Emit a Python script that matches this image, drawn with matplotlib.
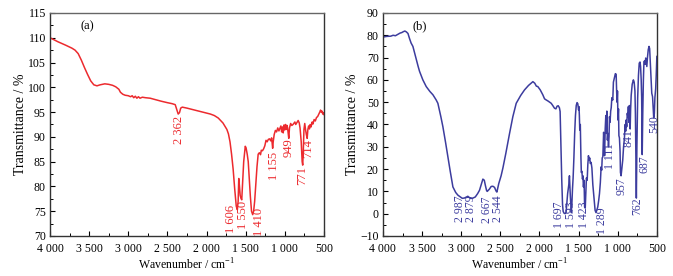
import matplotlib
matplotlib.use("Agg")
import matplotlib.pyplot as plt
from matplotlib.ticker import MultipleLocator, FuncFormatter

# spectrum (a)
wn_a = [4000, 3900, 3800, 3720, 3680, 3640, 3600, 3560, 3520, 3480,
        3440, 3400, 3360, 3300, 3250, 3200, 3160, 3120, 3100, 3070,
        3040, 3000, 2970, 2950, 2930, 2910, 2890, 2870, 2850, 2820,
        2780, 2720, 2650, 2580, 2500, 2440, 2400, 2380, 2362, 2345,
        2330, 2310, 2250, 2150, 2050, 1950, 1900, 1850, 1820, 1790,
        1760, 1740, 1720, 1700, 1680, 1660, 1640, 1620, 1606, 1596,
        1588, 1580, 1570, 1560, 1550, 1540, 1525, 1505, 1495, 1480,
        1467, 1455, 1440, 1425, 1410, 1398, 1385, 1370, 1355, 1340,
        1325, 1310, 1300, 1285, 1270, 1255, 1240, 1225, 1210, 1195,
        1180, 1168, 1160, 1155, 1148, 1135, 1120, 1105, 1090, 1075,
        1063, 1050, 1040, 1030, 1020, 1010, 1000, 990, 980, 970,
        960, 949, 940, 925, 910, 895, 880, 871, 860, 845,
        829, 815, 805, 790, 778, 771, 764, 755, 745, 735,
        725, 714, 705, 695, 685, 675, 665, 650, 640, 625,
        610, 595, 580, 565, 550, 543, 535, 525, 515, 505,
        500]
tr_a = [110.0, 109.2, 108.5, 107.9, 107.5, 106.8, 105.5, 104.0, 102.6, 101.3,
        100.5, 100.3, 100.5, 100.7, 100.6, 100.4, 100.1, 99.6, 99.0, 98.6,
        98.4, 98.3, 98.1, 98.3, 97.9, 98.2, 97.8, 98.1, 97.8, 98.0,
        97.9, 97.8, 97.5, 97.2, 96.9, 96.7, 96.5, 95.5, 94.6, 94.9,
        95.8, 96.0, 95.8, 95.4, 95.0, 94.6, 94.3, 93.8, 93.3, 92.8,
        92.0, 91.5, 90.6, 89.0, 86.5, 83.5, 79.5, 76.0, 75.3, 77.0,
        81.6, 80.2, 78.2, 77.6, 77.3, 80.5, 85.0, 88.1, 87.8, 86.5,
        85.0, 82.0, 78.0, 75.0, 74.3, 75.0, 77.0, 80.5, 84.0, 86.5,
        86.8, 86.4, 87.3, 87.2, 87.6, 88.2, 89.3, 89.0, 89.5, 89.6,
        89.2, 89.8, 88.5, 87.7, 89.0, 90.5, 91.3, 91.0, 91.8, 91.2,
        91.7, 92.2, 91.0, 92.0, 90.8, 92.4, 91.4, 92.5, 91.5, 92.3,
        91.2, 89.7, 91.8, 92.7, 92.3, 92.5, 92.8, 93.0, 92.5, 92.9,
        93.3, 92.8, 91.8, 89.0, 85.0, 84.3, 87.0, 91.5, 92.7, 91.5,
        90.5, 89.7, 91.5, 92.2, 91.6, 92.5, 92.0, 93.0, 92.6, 93.5,
        93.2, 93.9, 94.1, 94.6, 95.1, 95.4, 95.0, 95.2, 94.6, 94.9,
        94.5]

# spectrum (b)
wn_b = [4000, 3950, 3900, 3870, 3840, 3800, 3780, 3760, 3740, 3720,
        3700, 3680, 3660, 3640, 3617, 3580, 3550, 3532, 3490, 3447,
        3400, 3361, 3320, 3298, 3260, 3234, 3200, 3170, 3140, 3106,
        3070, 3042, 3010, 2987, 2960, 2930, 2915, 2895, 2879, 2850,
        2820, 2790, 2766, 2745, 2723, 2705, 2690, 2675, 2667, 2640,
        2617, 2595, 2574, 2555, 2544, 2520, 2490, 2467, 2430, 2382,
        2340, 2297, 2240, 2191, 2140, 2084, 2060, 2040, 2021, 1990,
        1957, 1935, 1914, 1890, 1870, 1850, 1830, 1808, 1790, 1775,
        1760, 1745, 1736, 1725, 1715, 1705, 1697, 1685, 1672, 1660,
        1650, 1640, 1630, 1625, 1617, 1612, 1605, 1598, 1593, 1585,
        1578, 1570, 1560, 1550, 1540, 1530, 1520, 1510, 1500, 1495,
        1490, 1485, 1478, 1470, 1465, 1458, 1450, 1445, 1438, 1430,
        1423, 1415, 1408, 1400, 1390, 1382, 1374, 1365, 1358, 1350,
        1340, 1330, 1318, 1305, 1297, 1289, 1278, 1268, 1255, 1243,
        1233, 1222, 1212, 1205, 1198, 1190, 1180, 1175, 1168, 1160,
        1152, 1145, 1139, 1132, 1125, 1118, 1111, 1105, 1098, 1090,
        1083, 1075, 1063, 1055, 1042, 1030, 1020, 1014, 1008, 1003,
        997, 990, 985, 978, 970, 965, 957, 950, 943, 936,
        925, 914, 905, 898, 893, 885, 878, 870, 864, 858,
        851, 845, 841, 835, 828, 815, 800, 790, 780, 774,
        768, 762, 755, 745, 735, 725, 715, 708, 700, 694,
        687, 680, 672, 665, 658, 650, 642, 635, 628, 620,
        610, 600, 592, 585, 575, 565, 555, 548, 540, 532,
        525, 515, 508, 500]
tr_b = [79.2, 79.5, 79.6, 80.0, 79.8, 80.6, 81.0, 81.2, 81.6, 81.9,
        81.5, 80.8, 78.5, 76.5, 75.0, 70.0, 66.0, 63.8, 60.0, 57.0,
        54.8, 53.3, 51.0, 49.5, 43.5, 39.0, 32.0, 25.5, 19.0, 12.0,
        9.5, 8.3, 7.5, 6.9, 7.0, 7.5, 7.8, 7.2, 6.8, 7.0,
        7.5, 9.0, 10.5, 13.0, 15.5, 15.0, 12.5, 10.3, 10.0, 11.0,
        12.2, 12.3, 11.8, 10.2, 9.7, 13.5, 17.0, 20.5, 27.0, 36.0,
        43.5, 49.5, 53.0, 55.5, 57.5, 59.2, 58.5, 57.2, 57.0, 55.5,
        53.3, 51.5, 51.0, 50.5, 50.0, 49.5, 48.5, 47.3, 47.0, 48.2,
        48.4, 47.5, 45.8, 30.0, 15.0, 4.0, 1.0, 0.2, 0.0, 0.5,
        5.0, 9.0, 11.5, 13.0, 17.0, 13.0, 7.5, 3.0, 0.5, 5.0,
        11.0, 16.0, 25.0, 36.0, 44.0, 48.5, 49.8, 49.3, 46.5, 48.0,
        44.0, 37.5, 40.0, 25.0, 18.5, 19.0, 15.5, 17.0, 12.0, 15.0,
        3.0, 2.5, 9.0, 16.0, 15.0, 22.0, 26.0, 24.0, 25.0, 22.5,
        23.0, 20.5, 13.0, 8.0, 5.0, 1.5, 0.5, 1.5, 3.0, 6.0,
        9.0, 14.0, 21.0, 19.5, 25.0, 25.5, 36.5, 33.0, 26.0, 38.0,
        44.0, 36.0, 46.0, 33.0, 36.0, 30.0, 34.5, 43.5, 41.0, 46.0,
        47.5, 52.0, 51.0, 59.0, 61.0, 62.8, 62.5, 55.0, 50.0, 55.0,
        42.0, 47.0, 35.0, 34.0, 28.0, 18.5, 17.0, 19.5, 21.5, 24.0,
        30.0, 34.0, 40.0, 37.0, 42.0, 39.0, 45.0, 43.5, 48.0, 41.0,
        48.5, 44.0, 38.0, 47.0, 53.0, 58.0, 60.0, 59.0, 55.0, 45.0,
        25.0, 7.0, 30.0, 52.0, 62.0, 67.5, 68.0, 66.0, 60.0, 52.0,
        26.5, 45.0, 60.0, 68.0, 68.5, 67.0, 69.8, 68.0, 66.0, 70.0,
        73.5, 75.0, 74.0, 69.0, 62.0, 54.0, 52.5, 48.0, 43.0, 45.0,
        52.0, 56.0, 62.0, 70.5]

# peak labels
peaks_a = ["2 362", "1 606", "1 550", "1 410", "1 155", "949", "771", "714"]
peaks_b = ["2 987", "2 879", "2 667", "2 544", "1 697", "1 593", "1 423",
           "1 289", "1 111", "957", "841", "762", "687", "540"]

assert len(wn_a) == len(tr_a) and len(wn_b) == len(tr_b)

# where the rotated labels sit (x centre, top)
lab_pos_a = [(2348, 94.2), (1693, 76.3), (1540, 77.0), (1327, 75.7),
             (1139, 87.0), (952, 89.7), (773, 84.2), (701, 89.6)]
lab_pos_b = [(3017, 8.0), (2880, 8.0), (2672, 7.6), (2536, 8.3),
             (1752, 5.3), (1598, 5.3), (1429, 5.3), (1199, 3.0),
             (1093, 31.5), (952, 16.5), (858, 38.0), (756, 7.5),
             (658, 26.0), (530, 44.0)]

plt.rcParams["font.family"] = ["Liberation Serif", "DejaVu Serif"]
plt.rcParams["mathtext.fontset"] = "custom"
plt.rcParams["mathtext.rm"] = "Liberation Serif"
plt.rcParams["font.size"] = 8.5

RED = "#ec2a2e"
BLUE = "#3c3c9e"


def thousands(v, pos):
    v = int(round(v))
    if v >= 1000:
        return f"{v // 1000} {v % 1000:03d}"
    return str(v)


def style_ax(ax, ylim, ystep):
    ax.set_xlim(4000, 500)
    ax.set_ylim(*ylim)
    ax.xaxis.set_major_locator(MultipleLocator(500))
    ax.xaxis.set_minor_locator(MultipleLocator(250))
    ax.xaxis.set_major_formatter(FuncFormatter(thousands))
    ax.yaxis.set_major_locator(MultipleLocator(ystep))
    ax.yaxis.set_minor_locator(MultipleLocator(ystep / 2))
    ax.tick_params(which="both", direction="in", top=False, right=False)
    ax.tick_params(which="major", length=3.5, width=0.8)
    ax.tick_params(which="minor", length=2, width=0.7)
    ax.tick_params(axis="x", which="major", pad=5)
    ax.tick_params(axis="y", which="major", pad=3)
    for s in ax.spines.values():
        s.set_linewidth(1.0)
        s.set_color("#333333")
    ax.spines["top"].set_color("#666666")
    ax.set_xlabel("Wavenumber / cm$^{\\mathregular{-1}}$", fontsize=8.5, labelpad=1.5)
    ax.set_ylabel("Transmittance / %", fontsize=10, labelpad=1)


fig = plt.figure(figsize=(6.73, 2.76), dpi=100)
ax1 = fig.add_axes([0.0743, 0.145, 0.407, 0.808])
ax2 = fig.add_axes([0.569, 0.145, 0.407, 0.808])

ax1.plot(wn_a, tr_a, color=RED, lw=1.1)
style_ax(ax1, (70, 115), 5)
for txt, (x, y) in zip(peaks_a, lab_pos_a):
    ax1.text(x, y, txt, rotation=90, ha="center", va="top", color=RED,
             fontsize=9, clip_on=True)
ax1.text(0.135, 0.94, "(a)", transform=ax1.transAxes, ha="center", va="center",
         fontsize=9)

ax2.plot(wn_b, tr_b, color=BLUE, lw=1.1)
style_ax(ax2, (-10, 90), 10)
for txt, (x, y) in zip(peaks_b, lab_pos_b):
    ax2.text(x, y, txt, rotation=90, ha="center", va="top", color=BLUE,
             fontsize=8.5, clip_on=True)
ax2.text(0.135, 0.94, "(b)", transform=ax2.transAxes, ha="center", va="center",
         fontsize=9)

fig.savefig("out.png", dpi=100)
plt.close(fig)
